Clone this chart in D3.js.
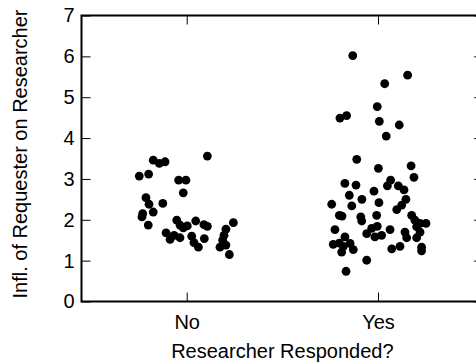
<!DOCTYPE html>
<html>
<head>
<meta charset="utf-8">
<script src="https://cdn.jsdelivr.net/npm/d3@7"></script>
<style>
  body { margin: 0; background: #fff; }
  svg { display: block; font-family: "Liberation Sans", Arial, sans-serif; }
</style>
</head>
<body>
<svg id="chart" width="476" height="364"></svg>
<script>
const categories = ["No", "Yes"];
const yTicks = [0, 1, 2, 3, 4, 5, 6, 7];

// jitter offset (category units) and influence value
const noJitter = [-0.175, -0.143, -0.113, 0.108, -0.248, -0.199, -0.042, -0.004, -0.018, -0.213,
  -0.197, -0.125, -0.230, -0.234, -0.175, -0.201, -0.052, -0.035, 0.003, 0.047,
  0.090, 0.108, -0.018, -0.108, -0.087, -0.066, -0.035, 0.026, 0.038, 0.061,
  0.092, 0.244, 0.205, 0.195, 0.188, 0.174, 0.205, 0.223];
const noValues = [3.46, 3.38, 3.42, 3.56, 3.07, 3.12, 2.97, 2.97, 2.66, 2.54,
  2.38, 2.40, 2.15, 2.07, 2.19, 1.87, 1.99, 1.87, 1.85, 1.97,
  1.88, 1.84, 1.80, 1.68, 1.52, 1.62, 1.56, 1.60, 1.44, 1.33,
  1.54, 1.93, 1.77, 1.62, 1.50, 1.33, 1.38, 1.15];

const yesJitter = [-0.132, 0.155, 0.035, -0.004, -0.164, -0.199, 0.007, 0.111, 0.043, -0.111,
  0.002, 0.173, 0.188, -0.173, -0.115, 0.066, 0.049, 0.106, 0.136, -0.150,
  -0.021, -0.084, -0.242, 0.005, -0.137, 0.146, 0.124, 0.098, -0.202, -0.188,
  -0.090, -0.085, -0.007, 0.176, 0.193, 0.220, 0.251, 0.202, -0.225, -0.004,
  -0.033, 0.063, 0.141, 0.220, -0.059, -0.016, 0.019, -0.173, -0.234, -0.202,
  -0.181, -0.146, -0.129, -0.190, 0.150, 0.202, 0.072, 0.115, 0.228, 0.228,
  -0.059, -0.167];
const yesValues = [6.02, 5.54, 5.33, 4.77, 4.55, 4.49, 4.41, 4.32, 4.05, 3.48,
  3.26, 3.32, 3.04, 2.89, 2.85, 2.97, 2.83, 2.83, 2.73, 2.60,
  2.70, 2.50, 2.38, 2.42, 2.34, 2.50, 2.36, 2.25, 2.11, 2.09,
  2.07, 1.97, 2.11, 2.11, 1.99, 1.91, 1.91, 1.83, 1.76, 1.84,
  1.79, 1.76, 1.70, 1.70, 1.66, 1.58, 1.62, 1.58, 1.40, 1.43,
  1.35, 1.42, 1.27, 1.21, 1.56, 1.56, 1.29, 1.35, 1.33, 1.24,
  1.01, 0.74];

const plotLeft = 81.5, plotRight = 483.2, plotTop = 15.5, plotBottom = 301.5;
const fontSize = 20;
const svg = d3.select("#chart");

const x = d3.scaleLinear().domain([-0.55, 1.55]).range([plotLeft, plotRight]);
const y = d3.scaleLinear().domain([0, 7]).range([plotBottom, plotTop]);

const points = [];
noValues.forEach((v, i) => points.push({ c: 0 + noJitter[i], v: v }));
yesValues.forEach((v, i) => points.push({ c: 1 + yesJitter[i], v: v }));

svg.append("g")
  .selectAll("circle")
  .data(points)
  .enter()
  .append("circle")
  .attr("cx", d => x(d.c))
  .attr("cy", d => y(d.v))
  .attr("r", 4.4)
  .attr("fill", "#000");

function styleAxis(g, labels) {
  g.select(".domain").remove();
  g.selectAll(".tick line").attr("stroke", "#000").attr("stroke-width", 1);
  g.selectAll("text").attr("font-size", fontSize).attr("fill", "#000");
  if (!labels) g.selectAll("text").remove();
}

svg.append("g")
  .attr("transform", `translate(${plotLeft},0)`)
  .call(d3.axisLeft(y).tickValues(yTicks).tickFormat(d3.format("d"))
    .tickSizeInner(-9).tickSizeOuter(0).tickPadding(7))
  .call(g => styleAxis(g, true));

svg.append("g")
  .attr("transform", `translate(${plotRight},0)`)
  .call(d3.axisRight(y).tickValues(yTicks).tickSizeInner(-9).tickSizeOuter(0))
  .call(g => styleAxis(g, false));

svg.append("g")
  .attr("transform", `translate(0,${plotBottom})`)
  .call(d3.axisBottom(x).tickValues([0, 1]).tickFormat(d => categories[d])
    .tickSizeInner(-9).tickSizeOuter(0).tickPadding(13))
  .call(g => styleAxis(g, true));

svg.append("g")
  .attr("transform", `translate(0,${plotTop})`)
  .call(d3.axisTop(x).tickValues([0, 1]).tickSizeInner(-9).tickSizeOuter(0))
  .call(g => styleAxis(g, false));

// frame
svg.append("rect")
  .attr("x", plotLeft)
  .attr("y", plotTop)
  .attr("width", plotRight - plotLeft)
  .attr("height", plotBottom - plotTop)
  .attr("fill", "none")
  .attr("stroke", "#000")
  .attr("stroke-width", 2);

svg.append("text")
  .attr("x", (x(0) + x(1)) / 2)
  .attr("y", 358)
  .attr("text-anchor", "middle")
  .attr("font-size", fontSize)
  .text("Researcher Responded?");

svg.append("text")
  .attr("transform", "translate(27,154) rotate(-90)")
  .attr("text-anchor", "middle")
  .attr("font-size", fontSize)
  .text("Infl. of Requester on Researcher");
</script>
</body>
</html>
